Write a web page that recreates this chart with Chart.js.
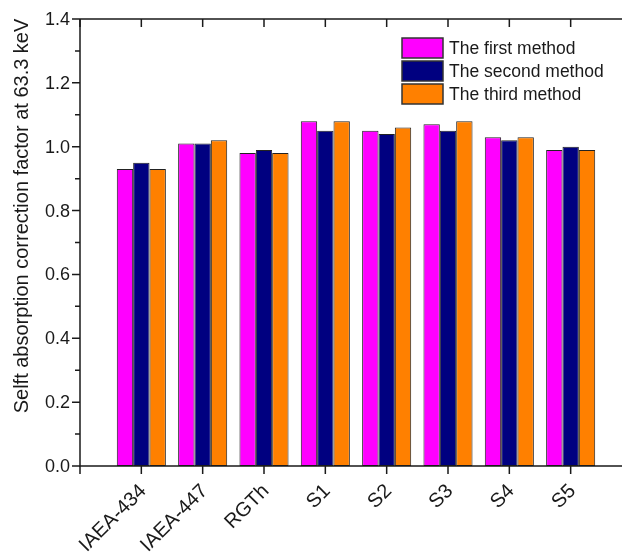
<!DOCTYPE html>
<html>
<head>
<meta charset="utf-8">
<script src="https://cdn.jsdelivr.net/npm/chart.js@4"></script>
<style>
  html, body { margin: 0; padding: 0; background: #fff; overflow: hidden; }
  #wrap { width: 640px; height: 554px; }
</style>
</head>
<body>
<div id="wrap"><canvas id="chart" width="640" height="554"></canvas></div>
<script>
// categories and series
const categories = ['IAEA-434', 'IAEA-447', 'RGTh', 'S1', 'S2', 'S3', 'S4', 'S5'];
const firstMethod  = [0.93, 1.01, 0.98, 1.08, 1.05, 1.07, 1.03, 0.99];
const secondMethod = [0.95, 1.01, 0.99, 1.05, 1.04, 1.05, 1.02, 1.00];
const thirdMethod  = [0.93, 1.02, 0.98, 1.08, 1.06, 1.08, 1.03, 0.99];
const yTicks = [0.0, 0.2, 0.4, 0.6, 0.8, 1.0, 1.2, 1.4];
const yTitle = 'Selft absorption correction factor at 63.3 keV';

// origin style axis: one empty slot on each side of the categories
const pad = arr => [null, ...arr, null];
const labels = pad(categories);

const FONT = 'Arial, "Liberation Sans", sans-serif';
const INK = '#1a1a1a';

const axesPlugin = {
  id: 'originAxes',
  afterDraw(chart) {
    const ctx = chart.ctx;
    const x = chart.scales.x, y = chart.scales.y;
    const a = chart.chartArea;
    ctx.save();
    ctx.strokeStyle = INK;
    ctx.lineWidth = 1.5;

    // frame
    ctx.beginPath();
    ctx.moveTo(a.left, a.top); ctx.lineTo(a.left, a.bottom);
    ctx.lineTo(a.right, a.bottom); ctx.lineTo(a.right, a.top);
    ctx.lineTo(a.left, a.top);
    ctx.stroke();

    // y ticks: major outward, minor outward shorter
    ctx.beginPath();
    for (let i = 0; i <= 14; i++) {
      const py = y.getPixelForValue(i / 10);
      const len = i % 2 === 0 ? 8 : 5;
      ctx.moveTo(a.left - len, py); ctx.lineTo(a.left, py);
      ctx.moveTo(a.right, py); ctx.lineTo(a.right + len, py);
    }
    // x ticks: bottom outward, top inward
    labels.forEach((c, i) => {
      const px = x.getPixelForValue(i);
      ctx.moveTo(px, a.bottom); ctx.lineTo(px, a.bottom + 8);
      ctx.moveTo(px, a.top); ctx.lineTo(px, a.top + 8);
    });
    ctx.stroke();

    // y tick labels
    ctx.fillStyle = INK;
    ctx.font = '18px ' + FONT;
    ctx.textAlign = 'right';
    ctx.textBaseline = 'middle';
    yTicks.forEach(v => {
      ctx.fillText(v.toFixed(1), a.left - 10, y.getPixelForValue(v) + 1);
    });

    // x tick labels rotated 45 degrees
    ctx.font = '20px ' + FONT;
    categories.forEach((c, i) => {
      const px = x.getPixelForValue(i + 1);
      ctx.save();
      ctx.translate(px + 2, a.bottom + 22);
      ctx.rotate(-Math.PI / 4);
      ctx.textAlign = 'right';
      ctx.textBaseline = 'middle';
      ctx.fillText(c, 0, 0);
      ctx.restore();
    });

    // y title
    ctx.save();
    ctx.font = '20px ' + FONT;
    ctx.translate(22, 216);
    ctx.rotate(-Math.PI / 2);
    ctx.textAlign = 'center';
    ctx.textBaseline = 'middle';
    ctx.fillText(yTitle, 0, 0);
    ctx.restore();

    // legend inside plot
    ctx.font = '17.5px ' + FONT;
    ctx.textAlign = 'left';
    ctx.textBaseline = 'middle';
    chart.data.datasets.forEach((ds, i) => {
      const top = 38 + i * 23;
      ctx.fillStyle = ds.backgroundColor;
      ctx.fillRect(402, top, 41, 20);
      ctx.lineWidth = 1.5;
      ctx.strokeStyle = '#333';
      ctx.strokeRect(402, top, 41, 20);
      ctx.fillStyle = INK;
      ctx.fillText(ds.label, 449, top + 11);
    });
    ctx.restore();
  }
};

new Chart(document.getElementById('chart'), {
  type: 'bar',
  data: {
    labels: labels,
    datasets: [
      { label: 'The first method',  data: pad(firstMethod),  backgroundColor: '#FF00FF' },
      { label: 'The second method', data: pad(secondMethod), backgroundColor: '#000080' },
      { label: 'The third method',  data: pad(thirdMethod),  backgroundColor: '#FF8000' }
    ]
  },
  options: {
    responsive: false,
    animation: false,
    layout: { padding: { left: 80, top: 19, right: 8, bottom: 88 } },
    datasets: {
      bar: {
        categoryPercentage: 0.8,
        barPercentage: 1.0,
        borderWidth: 1,
        borderColor: '#222',
        borderSkipped: false
      }
    },
    plugins: { legend: { display: false }, tooltip: { enabled: false } },
    scales: {
      x: { display: false, offset: false },
      y: { display: false, min: 0, max: 1.4 }
    }
  },
  plugins: [axesPlugin]
});
</script>
</body>
</html>
